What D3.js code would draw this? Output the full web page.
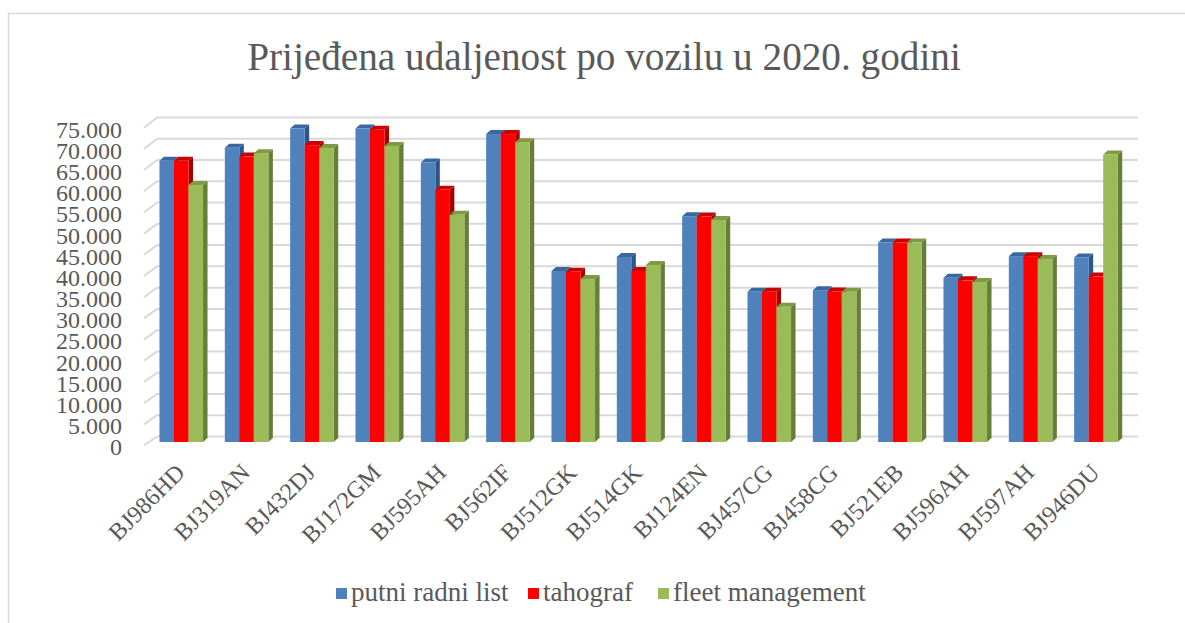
<!DOCTYPE html>
<html>
<head>
<meta charset="utf-8">
<script src="https://cdn.jsdelivr.net/npm/d3@7"></script>
<style>
    body { margin: 0; background: #fff; }
    text { font-family: "Liberation Serif", serif; fill: #595959; }
</style>
</head>
<body>
<div id="chart"></div>
<script>
const categories = ["BJ986HD", "BJ319AN", "BJ432DJ", "BJ172GM", "BJ595AH", "BJ562IF", "BJ512GK", "BJ514GK",
    "BJ124EN", "BJ457CG", "BJ458CG", "BJ521EB", "BJ596AH", "BJ597AH", "BJ946DU"];
const putniRadniList = [66100, 69200, 73700, 73700, 65700, 72400, 40200, 43500, 53100, 35300, 35700, 46900, 38600, 43700, 43400];
const tahograf = [66100, 67100, 69800, 73400, 59300, 72400, 40000, 40200, 53000, 35300, 35400, 46900, 38000, 43700, 38900];
const fleetManagement = [60400, 67900, 69100, 69600, 53400, 70500, 38300, 41600, 52200, 31800, 35300, 46900, 37600, 43000, 67600];
const seriesNames = ["putni radni list", "tahograf", "fleet management"];
const yTicks = [0, 5000, 10000, 15000, 20000, 25000, 30000, 35000, 40000, 45000, 50000, 55000, 60000, 65000, 70000, 75000];
const titleText = "Prijeđena udaljenost po vozilu u 2020. godini";

class Bar3DChart {
    constructor(_config) {
        this.config = {
            parentElement: _config.parentElement,
            width: 1185,
            height: 623,
            depth: { dx: 4.5, dy: -4 },
            colors: {
                front: ["#4F81BD", "#FF0000", "#9BBB59"],
                top: ["#3B67A0", "#CC0000", "#7D9A44"],
                side: ["#2E5585", "#A50000", "#667F38"]
            }
        };
        this.data = categories.map((c, i) => ({
            cat: c,
            values: [putniRadniList[i], tahograf[i], fleetManagement[i]]
        }));
        this.initVis();
    }

    initVis() {
        let vis = this;
        let { parentElement, width, height } = vis.config;

        vis.svg = d3.select(parentElement)
            .append("svg")
            .attr("width", width)
            .attr("height", height);

        // outer chart border
        vis.svg.append("rect")
            .attr("x", 8.5).attr("y", 13.5)
            .attr("width", 1190).attr("height", 700)
            .attr("fill", "none")
            .attr("stroke", "#D9D9D9")
            .attr("stroke-width", 1.5);

        // scales: bar plane, back wall, front edge
        vis.y = d3.scaleLinear().domain([0, 75000]).range([442, 123]);
        vis.yBack = d3.scaleLinear().domain([0, 75000]).range([436.5, 117.5]);
        vis.yFront = d3.scaleLinear().domain([0, 75000]).range([445.5, 127.7]);

        vis.x0 = d3.scaleBand()
            .domain(categories)
            .range([148.6, 1128.6])
            .paddingInner(1 / 3)
            .paddingOuter(1 / 6);

        vis.x1 = d3.scaleBand()
            .domain(d3.range(seriesNames.length))
            .range([0, vis.x0.bandwidth()]);

        vis.renderVis();
    }

    renderVis() {
        let vis = this;
        let { depth, colors } = vis.config;
        let fmt = d3.formatLocale({ decimal: ",", thousands: ".", grouping: [3], currency: ["", ""] }).format(",");

        // gridlines on back wall + side wall diagonals
        let backLeft = 157, backRight = 1138, frontLeft = 144;
        let grid = vis.svg.append("g").attr("class", "grid");
        grid.selectAll("line.h")
            .data(yTicks)
            .join("line")
            .attr("class", "h")
            .attr("x1", backLeft).attr("x2", backRight)
            .attr("y1", d => vis.yBack(d)).attr("y2", d => vis.yBack(d))
            .attr("stroke", "#D9D9D9")
            .attr("stroke-width", 2);
        grid.selectAll("line.d")
            .data(yTicks)
            .join("line")
            .attr("class", "d")
            .attr("x1", frontLeft).attr("x2", backLeft)
            .attr("y1", d => vis.yFront(d)).attr("y2", d => vis.yBack(d))
            .attr("stroke", "#D9D9D9")
            .attr("stroke-width", 2);

        // y axis labels
        vis.svg.append("g")
            .selectAll("text")
            .data(yTicks)
            .join("text")
            .attr("x", 122)
            .attr("y", d => vis.yFront(d) + 1.5)
            .attr("dy", "0.35em")
            .attr("text-anchor", "end")
            .style("font-size", "24px")
            .text(d => fmt(d));

        // bars
        let groups = vis.svg.append("g")
            .selectAll("g")
            .data(vis.data)
            .join("g")
            .attr("transform", d => `translate(${vis.x0(d.cat)},0)`);

        let bars = groups.selectAll("g")
            .data(d => d.values.map((v, i) => ({ v, i })))
            .join("g");

        let w = vis.x1.bandwidth();
        let y0 = vis.y(0);

        bars.append("polygon")
            .attr("points", d => {
                let x = vis.x1(d.i), yt = vis.y(d.v);
                return [[x + w, yt], [x + w + depth.dx, yt + depth.dy], [x + w + depth.dx, y0 + depth.dy], [x + w, y0]].join(" ");
            })
            .attr("fill", d => colors.side[d.i]);

        bars.append("polygon")
            .attr("points", d => {
                let x = vis.x1(d.i), yt = vis.y(d.v);
                return [[x, yt], [x + depth.dx, yt + depth.dy], [x + w + depth.dx, yt + depth.dy], [x + w, yt]].join(" ");
            })
            .attr("fill", d => colors.top[d.i]);

        bars.append("rect")
            .attr("x", d => vis.x1(d.i))
            .attr("y", d => vis.y(d.v))
            .attr("width", w)
            .attr("height", d => y0 - vis.y(d.v))
            .attr("fill", d => colors.front[d.i]);

        // x axis labels
        vis.svg.append("g")
            .selectAll("text")
            .data(categories)
            .join("text")
            .attr("text-anchor", "end")
            .attr("transform", d => `translate(${vis.x0(d) + vis.x0.bandwidth() / 2 + 5},474) rotate(-45)`)
            .style("font-size", "24px")
            .text(d => d);

        // title, fitted to the reference width
        let title = vis.svg.append("text")
            .attr("x", 604)
            .attr("y", 70)
            .attr("text-anchor", "middle")
            .style("font-size", "36px")
            .text(titleText);
        let tw = title.node().getComputedTextLength();
        title.style("font-size", (36 * 714 / tw) + "px");

        // legend
        let legendX = [336, 528, 658];
        let legend = vis.svg.append("g")
            .selectAll("g")
            .data(seriesNames)
            .join("g")
            .attr("transform", (d, i) => `translate(${legendX[i]},588)`);
        legend.append("rect")
            .attr("width", 11).attr("height", 11)
            .attr("fill", (d, i) => colors.front[i]);
        legend.append("text")
            .attr("x", 15)
            .attr("y", 13)
            .style("font-size", "27px")
            .text(d => d);
    }
}

new Bar3DChart({ parentElement: "#chart" });
</script>
</body>
</html>
